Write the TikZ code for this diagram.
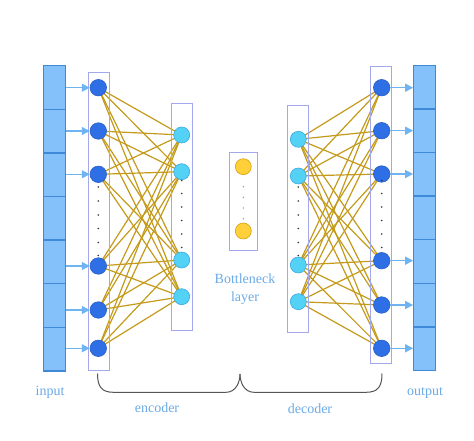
\documentclass[tikz,border=0pt]{standalone}
\usepackage{fontspec}
\setmainfont{Liberation Serif}
\usetikzlibrary{arrows.meta}
\definecolor{barfill}{HTML}{84C1FA}
\definecolor{barline}{HTML}{3F8AD8}
\definecolor{darkfill}{HTML}{2E6FE6}
\definecolor{darkline}{HTML}{2A5FC8}
\definecolor{cyanfill}{HTML}{54D2F5}
\definecolor{cyanline}{HTML}{3BA8E0}
\definecolor{yelfill}{HTML}{FFD03A}
\definecolor{yelline}{HTML}{D4A010}
\definecolor{boxline}{HTML}{A3A8EC}
\definecolor{wire}{HTML}{C49A1A}
\definecolor{arrcol}{HTML}{6EB4F2}
\definecolor{txtcol}{HTML}{6AAAE6}
\definecolor{bracecol}{HTML}{555555}
\pgfdeclarelayer{background}
\pgfsetlayers{background,main}
\begin{document}
\begin{tikzpicture}[x=1pt,y=-1pt,
  cell/.style={draw=barline,fill=barfill,line width=1.3pt,minimum width=22pt,minimum height=43.6pt,inner sep=0pt},
  darkn/.style={circle,draw=darkline,fill=darkfill,minimum size=16.5pt,inner sep=0pt,line width=0.6pt},
  cyann/.style={circle,draw=cyanline,fill=cyanfill,minimum size=16pt,inner sep=0pt,line width=0.6pt},
  yeln/.style={circle,draw=yelline,fill=yelfill,minimum size=16pt,inner sep=0pt,line width=0.6pt},
  layerbox/.style={draw=boxline,line width=0.9pt,inner sep=0pt},
  wireline/.style={draw=wire,line width=1.2pt},
  arr/.style={draw=arrcol,line width=1.4pt,-{Triangle[length=8pt,width=8pt]}},
  lbl/.style={text=txtcol,font=\fontsize{14}{18}\selectfont,inner sep=0pt},
  dotb/.style={circle,fill=black!80,minimum size=1.8pt,inner sep=0pt},
  dotg/.style={circle,fill=black!40,minimum size=1.6pt,inner sep=0pt},
  bracel/.style={draw=bracecol,line width=1pt}]
\useasboundingbox (0,0) rectangle (474,441);

% input bar
\foreach \i in {1,...,7}{
  \node[cell] (in\i) at (54.7,{65.7+21.8+43.6*(\i-1)}) {};
}
% output bar
\foreach \i in {1,...,7}{
  \node[cell] (out\i) at (424.8,{65.3+21.8+43.6*(\i-1)}) {};
}

% layer boxes
\node[layerbox,minimum width=21pt,minimum height=298pt] (box1) at (98.8,221.2) {};
\node[layerbox,minimum width=20.6pt,minimum height=227.4pt] (box2) at (182,217) {};
\node[layerbox,minimum width=28.4pt,minimum height=97.7pt] (box3) at (243.5,201.2) {};
\node[layerbox,minimum width=21pt,minimum height=226.6pt] (box4) at (297.8,219) {};
\node[layerbox,minimum width=20.6pt,minimum height=297.3pt] (box5) at (381,214.7) {};

% encoder layer 1
\node[darkn] (a1) at (98.3,87.7) {};
\node[darkn] (a2) at (98.3,131) {};
\node[darkn] (a3) at (98.3,174.3) {};
\node[darkn] (a4) at (98.3,266) {};
\node[darkn] (a5) at (98.3,310) {};
\node[darkn] (a6) at (98.3,348.3) {};
% encoder layer 2
\node[cyann] (b1) at (181.7,135) {};
\node[cyann] (b2) at (181.7,171.7) {};
\node[cyann] (b3) at (181.7,260) {};
\node[cyann] (b4) at (181.7,296.7) {};
% bottleneck
\node[yeln] (c1) at (243.3,166.7) {};
\node[yeln] (c2) at (243.3,231) {};
% decoder layer 1
\node[cyann] (d1) at (298.3,139.3) {};
\node[cyann] (d2) at (298.3,176) {};
\node[cyann] (d3) at (298.3,265) {};
\node[cyann] (d4) at (298.3,301.7) {};
% decoder layer 2
\node[darkn] (e1) at (381.7,87.7) {};
\node[darkn] (e2) at (381.7,130.7) {};
\node[darkn] (e3) at (381.7,174) {};
\node[darkn] (e4) at (381.7,260.7) {};
\node[darkn] (e5) at (381.7,305) {};
\node[darkn] (e6) at (381.7,348.3) {};

% dots
\foreach \y [count=\k] in {187,201,215,228.5,242.5,255.5}{
  \node[dotb] (pa\k) at (98.3,\y) {};
  \node[dotb] (pd\k) at (298.3,\y) {};
}
\foreach \y [count=\k] in {180.5,193.5,207,220.5,234,247.5}{
  \node[dotb] (pb\k) at (181.7,\y) {};
  \node[dotb] (pe\k) at (381.7,\y) {};
}
\foreach \y [count=\k] in {186.7,197.3,208,218.7}{
  \node[dotg] (pc\k) at (243.3,\y) {};
}

% connections
\begin{pgfonlayer}{background}
\foreach \i in {1,...,6}{
  \foreach \j in {1,...,4}{
    \draw[wireline] (a\i.center) -- (b\j.center);
    \draw[wireline] (d\j.center) -- (e\i.center);
  }
}
\end{pgfonlayer}

% arrows
\draw[arr] (in1.east |- a1) -- (a1.west);
\draw[arr] (in2.east |- a2) -- (a2.west);
\draw[arr] (in3.east |- a3) -- (a3.west);
\draw[arr] (in5.east |- a4) -- (a4.west);
\draw[arr] (in6.east |- a5) -- (a5.west);
\draw[arr] (in7.east |- a6) -- (a6.west);
\draw[arr] (e1.east) -- (out1.west |- e1);
\draw[arr] (e2.east) -- (out2.west |- e2);
\draw[arr] (e3.east) -- (out3.west |- e3);
\draw[arr] (e4.east) -- (out5.west |- e4);
\draw[arr] (e5.east) -- (out6.west |- e5);
\draw[arr] (e6.east) -- (out7.west |- e6);

% brace
\coordinate (brL) at (97.5,373.5);
\coordinate (brM) at (240,374);
\coordinate (brR) at (382,373.5);
\draw[bracel] (brL) .. controls +(0,13) and +(-12,0) .. ++(16,18.8) -- (226,392.3)
  .. controls +(10,0) and +(0,8) .. (brM);
\draw[bracel] (brM) .. controls +(0,8) and +(-10,0) .. ++(14,18.3) -- (366,392.3)
  .. controls +(12,0) and +(0,13) .. (brR);

% labels
\node[lbl] (tin) at (50,392.7) {input};
\node[lbl] (tout) at (425,392.7) {output};
\node[lbl] (tenc) at (157,407.7) {encoder};
\node[lbl] (tdec) at (310,409) {decoder};
\node[lbl,align=center,font=\fontsize{14}{17.5}\selectfont] (tbn) at (245,289) {Bottleneck\\layer};
\end{tikzpicture}
\end{document}
